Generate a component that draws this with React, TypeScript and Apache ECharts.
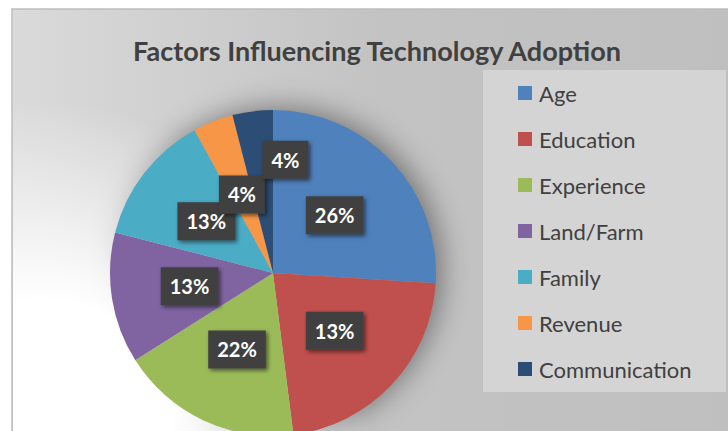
import React, { useEffect, useRef } from 'react';
import * as echarts from 'echarts';

const chartTitle = 'Factors Influencing Technology Adoption';
const categories = ['Age', 'Education', 'Experience', 'Land/Farm', 'Family', 'Revenue', 'Communication'];
// slice sizes as drawn
const sliceShares = [26, 22, 18, 13, 13, 4, 4];
// data labels as printed on the slices
const labelPercents = [26, 13, 22, 13, 13, 4, 4];
const sliceColors = ['#4F81BD', '#C0504D', '#9BBB59', '#8064A2', '#4BACC6', '#F79646', '#2C4D75'];

export default function App() {
  const ref = useRef<HTMLDivElement>(null);
  useEffect(() => {
    const chart = echarts.init(ref.current!, null, { renderer: 'svg' });
    const cx = 273, cy = 273, r = 163;
    chart.setOption({
      animation: false,
      backgroundColor: '#ffffff',
      title: {
        text: chartTitle,
        left: 377,
        top: 34,
        padding: 0,
        textAlign: 'center',
        textStyle: { fontFamily: 'Lato', fontWeight: 'bold', fontSize: 27, lineHeight: 32, color: '#404040' },
      },
      legend: {
        orient: 'vertical',
        left: 518,
        top: 82,
        padding: 0,
        itemWidth: 14,
        itemHeight: 14,
        itemGap: 24,
        icon: 'rect',
        selectedMode: false,
        data: categories,
        textStyle: { fontFamily: 'Lato', fontSize: 22, lineHeight: 22, color: '#404040', padding: [0, 0, 0, 2] },
      },
      graphic: [
        {
          type: 'rect',
          z: 0,
          shape: { x: 12, y: 9, width: 730, height: 440 },
          style: {
            fill: new echarts.graphic.LinearGradient(0, 0, 1, 0, [
              { offset: 0, color: '#dadada' },
              { offset: 0.5, color: '#c3c3c3' },
              { offset: 1, color: '#bfbfbf' },
            ]),
            stroke: '#bdbdbd',
            lineWidth: 1.5,
          },
        },
        {
          type: 'circle',
          z: 0,
          shape: { cx: cx, cy: cy, r: r - 2 },
          style: {
            fill: '#a0a0a0',
            shadowBlur: 30,
            shadowColor: 'rgba(0,0,0,0.45)',
            shadowOffsetX: 6,
            shadowOffsetY: -3,
          },
        },
        {
          type: 'rect',
          z: 0,
          shape: { x: 13, y: 10, width: 730, height: 440 },
          style: {
            fill: new echarts.graphic.RadialGradient(40, 431, 330, [
              { offset: 0, color: 'rgba(255,255,255,1)' },
              { offset: 0.4, color: 'rgba(255,255,255,1)' },
              { offset: 0.7, color: 'rgba(255,255,255,0.5)' },
              { offset: 1, color: 'rgba(255,255,255,0)' },
            ], true),
          },
        },
        {
          type: 'rect',
          z: 1,
          shape: { x: 483, y: 70, width: 243, height: 322 },
          style: { fill: '#d4d4d4' },
        },
      ],
      series: [
        {
          type: 'pie',
          center: [cx, cy],
          radius: r,
          startAngle: 90,
          clockwise: true,
          data: categories.map((name, i) => ({ name, value: sliceShares[i], itemStyle: { color: sliceColors[i] } })),
          itemStyle: { borderWidth: 0 },
          label: {
            show: true,
            position: 'inside',
            formatter: (p: any) => labelPercents[p.dataIndex] + '%',
            color: '#ffffff',
            fontFamily: 'Lato',
            fontWeight: 'bold',
            fontSize: 20,
            lineHeight: 20,
            backgroundColor: '#404040',
            padding: [9, 9, 9, 9],
            shadowColor: 'rgba(0,0,0,0.55)',
            shadowBlur: 4,
            shadowOffsetX: 2,
            shadowOffsetY: 2,
          },
          labelLayout: (p: any) => (p.dataIndex === 6 ? { dx: 23, dy: -29.5 } : {}),
          labelLine: { show: false },
          emphasis: { disabled: true },
        },
      ],
    });
    return () => chart.dispose();
  }, []);
  return <div ref={ref} style={{ position: 'fixed', left: 0, top: 0, width: 728, height: 431 }} />;
}
